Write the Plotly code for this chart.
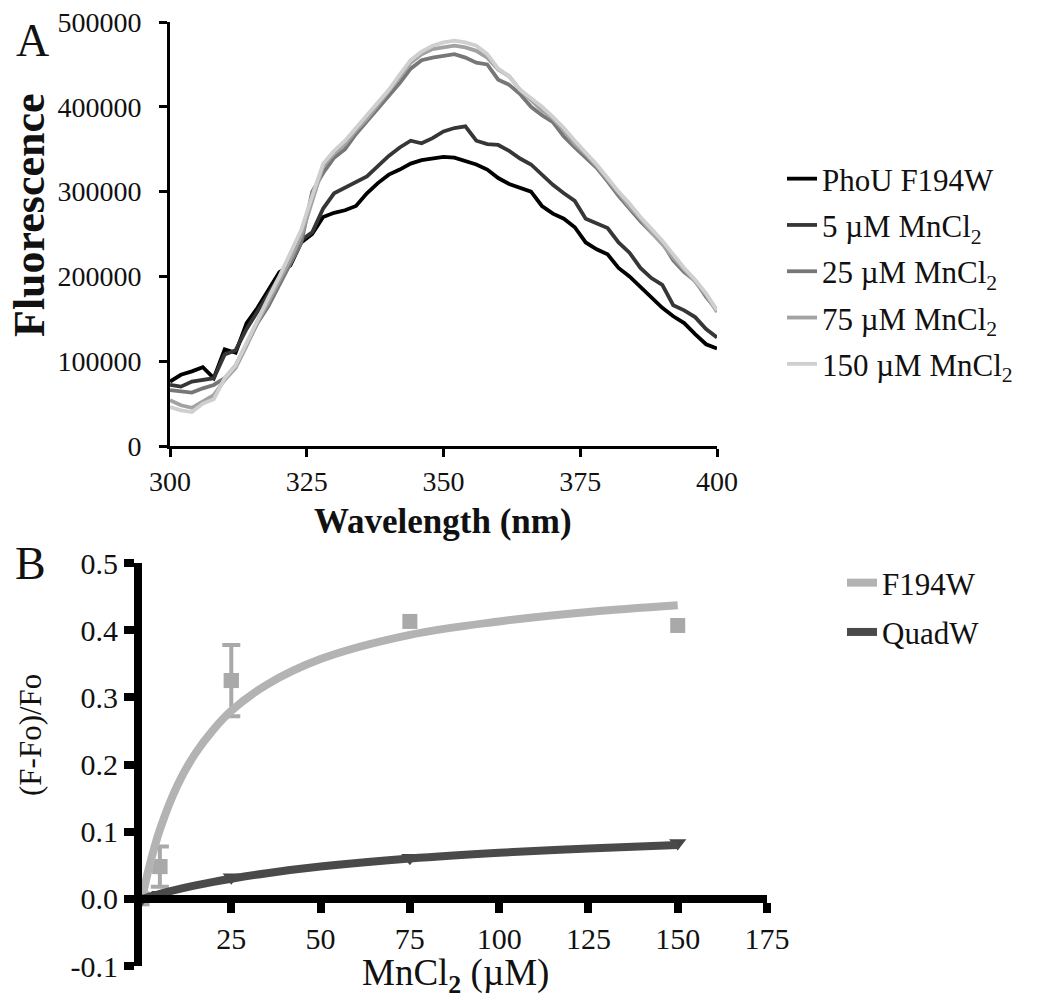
import plotly.graph_objects as go

# ---------------- Panel A data ----------------
wavelength = list(range(300, 401, 2))
phou_f194w = [76000, 84000, 88000, 93000, 80000, 114000, 110000, 145000, 163000, 183000,
              205000, 213000, 240000, 250000, 270000, 275000, 278000, 283000, 298000, 310000,
              320000, 326000, 333000, 337000, 339000, 341000, 340000, 336000, 332000, 326000,
              316000, 309000, 304000, 300000, 283000, 274000, 268000, 258000, 240000, 232000,
              226000, 210000, 200000, 188000, 175000, 163000, 153000, 145000, 132000, 120000,
              115000]
mn_5 = [72000, 70000, 76000, 78000, 80000, 108000, 113000, 138000, 158000, 180000,
        200000, 215000, 243000, 252000, 280000, 298000, 305000, 312000, 318000, 330000,
        342000, 352000, 360000, 357000, 363000, 371000, 375000, 377000, 360000, 356000,
        355000, 348000, 339000, 332000, 320000, 308000, 298000, 289000, 268000, 262000,
        257000, 240000, 228000, 210000, 198000, 190000, 166000, 160000, 152000, 138000,
        128000]
mn_25 = [66000, 64000, 63000, 68000, 72000, 80000, 95000, 120000, 145000, 165000,
         190000, 215000, 240000, 300000, 322000, 340000, 350000, 368000, 383000, 398000,
         412000, 428000, 445000, 455000, 458000, 460000, 462000, 458000, 452000, 450000,
         432000, 426000, 415000, 400000, 390000, 382000, 365000, 352000, 340000, 328000,
         312000, 295000, 280000, 265000, 252000, 240000, 219000, 205000, 195000, 176000,
         160000]
mn_75 = [54000, 48000, 45000, 52000, 60000, 78000, 92000, 118000, 146000, 170000,
         195000, 220000, 248000, 290000, 330000, 345000, 356000, 372000, 386000, 402000,
         418000, 435000, 452000, 462000, 468000, 470000, 472000, 470000, 466000, 458000,
         444000, 436000, 420000, 408000, 396000, 386000, 372000, 356000, 344000, 330000,
         314000, 298000, 282000, 268000, 252000, 238000, 222000, 208000, 194000, 178000,
         158000]
mn_150 = [46000, 42000, 40000, 50000, 55000, 80000, 95000, 122000, 150000, 175000,
          200000, 228000, 255000, 295000, 333000, 348000, 360000, 375000, 390000, 405000,
          420000, 438000, 455000, 465000, 472000, 476000, 478000, 476000, 472000, 462000,
          445000, 436000, 420000, 410000, 400000, 388000, 375000, 360000, 346000, 332000,
          316000, 300000, 286000, 270000, 256000, 242000, 226000, 210000, 196000, 180000,
          160000]
spectra_names = ["PhoU F194W", "5 µM MnCl<sub>2</sub>", "25 µM MnCl<sub>2</sub>",
                 "75 µM MnCl<sub>2</sub>", "150 µM MnCl<sub>2</sub>"]
spectra_colors = ["#000000", "#363636", "#777777", "#a2a2a2", "#cfcfcf"]
a_yticks = [0, 100000, 200000, 300000, 400000, 500000]
a_xticks = [300, 325, 350, 375, 400]

# ---------------- Panel B data ----------------
mn_conc = [0, 5, 25, 75, 150]
f194w_mean = [0.0, 0.048, 0.325, 0.413, 0.407]
f194w_err = [0.0, 0.03, 0.053, 0.0, 0.0]
quadw_mean = [0.0, 0.006, 0.032, 0.061, 0.083]
fit_x = [0, 2, 5, 10, 15, 20, 25, 35, 50, 75, 100, 125, 150]
f194w_fit = [0.0, 0.047, 0.103, 0.170, 0.217, 0.252, 0.280, 0.319, 0.357, 0.393, 0.413, 0.427, 0.437]
quadw_fit = [0.0, 0.003, 0.0075, 0.0141, 0.0200, 0.0253, 0.030, 0.0382, 0.048, 0.060, 0.0686, 0.075, 0.080]
b_yticks = [-0.1, 0.0, 0.1, 0.2, 0.3, 0.4, 0.5]
b_ytick_labels = ["-0.1", "0.0", "0.1", "0.2", "0.3", "0.4", "0.5"]
b_xticks = [25, 50, 75, 100, 125, 150, 175]

FONT = "Liberation Serif, Times New Roman, serif"
W, H = 1042, 1000

def px(x):
    return x / W

def py(y):
    return 1 - y / H

fig = go.Figure()

spectra = [phou_f194w, mn_5, mn_25, mn_75, mn_150]
for name, col, ys in zip(spectra_names, spectra_colors, spectra):
    fig.add_trace(go.Scatter(
        x=wavelength, y=ys, mode="lines", name=name,
        line=dict(color=col, width=3.8),
        xaxis="x", yaxis="y", legend="legend", legendgroup=name,
    ))

# Panel B: error bars only where an error is visible
err_idx = [i for i, e in enumerate(f194w_err) if e > 0]
fig.add_trace(go.Scatter(
    x=[mn_conc[i] for i in err_idx], y=[f194w_mean[i] for i in err_idx],
    mode="markers", showlegend=False, hoverinfo="skip",
    marker=dict(symbol="square", size=15, color="#a9a9a9"),
    error_y=dict(type="data", array=[f194w_err[i] for i in err_idx],
                 color="#a9a9a9", thickness=4, width=9),
    xaxis="x2", yaxis="y2",
))
fig.add_trace(go.Scatter(
    x=mn_conc, y=f194w_mean, mode="markers", showlegend=False,
    marker=dict(symbol="square", size=15, color="#a9a9a9"),
    xaxis="x2", yaxis="y2",
))
fig.add_trace(go.Scatter(
    x=mn_conc, y=quadw_mean, mode="markers", showlegend=False,
    marker=dict(symbol="triangle-down", size=15, color="#454545"),
    xaxis="x2", yaxis="y2",
))
fig.add_trace(go.Scatter(
    x=fit_x, y=f194w_fit, mode="lines", name="F194W",
    line=dict(color="#b3b3b3", width=8, shape="spline"),
    xaxis="x2", yaxis="y2", legend="legend2", legendgroup="F194W",
))
fig.add_trace(go.Scatter(
    x=fit_x, y=quadw_fit, mode="lines", name="QuadW",
    line=dict(color="#4a4a4a", width=8, shape="spline"),
    xaxis="x2", yaxis="y2", legend="legend2", legendgroup="QuadW",
))

a_dom_x = [px(170), px(717)]
a_dom_y = [py(446), py(22)]
b_dom_x = [px(142), px(767)]
b_dom_y = [py(966), py(563)]
b_xpos = b_dom_y[0] + (0 - (-0.1)) / 0.6 * (b_dom_y[1] - b_dom_y[0])

def ann(text, x, y, size, angle=0):
    return dict(text=text, x=px(x), y=py(y), xref="paper", yref="paper",
                xanchor="center", yanchor="middle", showarrow=False, textangle=angle,
                font=dict(size=size, family=FONT, color="#111111"))

fig.update_layout(
    width=W, height=H,
    margin=dict(l=0, r=0, t=0, b=0, autoexpand=False),
    paper_bgcolor="white", plot_bgcolor="white",
    font=dict(family=FONT, color="#111111", size=26),
    xaxis=dict(domain=a_dom_x, range=[300, 400], anchor="y",
               tickmode="array", tickvals=a_xticks,
               showline=True, linecolor="black", linewidth=3,
               ticks="outside", ticklen=8, tickwidth=3, tickcolor="black",
               showgrid=False, zeroline=False, tickfont=dict(size=28, family=FONT)),
    yaxis=dict(domain=a_dom_y, range=[0, 500000], anchor="x",
               tickmode="array", tickvals=a_yticks, tickformat="d",
               ticklabelstandoff=12,
               showline=True, linecolor="black", linewidth=3,
               ticks="outside", ticklen=8, tickwidth=3, tickcolor="black",
               showgrid=False, zeroline=False, tickfont=dict(size=28, family=FONT)),
    xaxis2=dict(domain=b_dom_x, range=[0, 175], anchor="free", position=b_xpos,
                tickmode="array", tickvals=b_xticks,
                showline=True, linecolor="black", linewidth=8,
                ticks="outside", ticklen=10, tickwidth=8, tickcolor="black",
                showgrid=False, zeroline=False, tickfont=dict(size=30, family=FONT)),
    yaxis2=dict(domain=b_dom_y, range=[-0.1, 0.5], anchor="x2",
                tickmode="array", tickvals=b_yticks, ticktext=b_ytick_labels,
                showline=True, linecolor="black", linewidth=8,
                ticks="outside", ticklen=10, tickwidth=8, tickcolor="black",
                showgrid=False, zeroline=False, tickfont=dict(size=30, family=FONT)),
    legend=dict(x=px(782), y=py(152), xanchor="left", yanchor="top",
                traceorder="grouped", tracegroupgap=3,
                font=dict(size=31, family=FONT, color="#111111"),
                bgcolor="rgba(0,0,0,0)"),
    legend2=dict(x=px(842), y=py(556), xanchor="left", yanchor="top",
                 traceorder="grouped", tracegroupgap=6,
                 font=dict(size=31, family=FONT, color="#111111"),
                 bgcolor="rgba(0,0,0,0)"),
    annotations=[
        ann("A", 32, 40, 46),
        ann("B", 30, 563, 46),
        ann("<b>Fluorescence</b>", 30, 215, 44, -90),
        ann("<b>Wavelength (nm)</b>", 443, 521, 35),
        ann("(F-Fo)/Fo", 30, 735, 31, -90),
        ann("MnCl<sub><b>2</b></sub> (µM)", 455, 975, 37),
    ],
)

fig.write_html("out.html")
